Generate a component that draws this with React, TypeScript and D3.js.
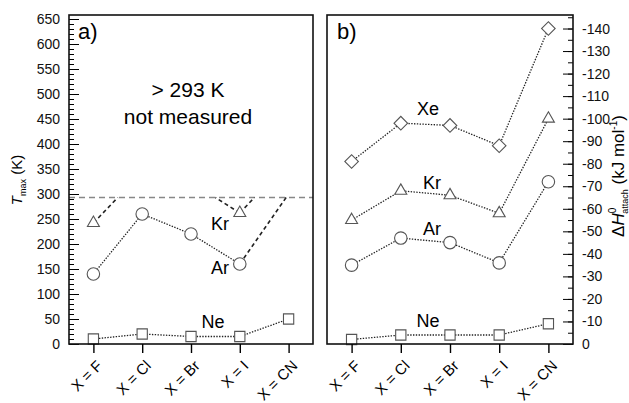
import React, { useEffect, useRef } from "react";
import * as d3 from "d3";

// categories (halide substituent)
const categories = ["X = F", "X = Cl", "X = Br", "X = I", "X = CN"];

// panel a: T_max (K); null = above 293 K, not measured
const tmaxNe = [10, 20, 15, 15, 50];
const tmaxAr = [140, 260, 220, 160, null];
const tmaxKr = [242, null, null, 262, null];
const tmaxLimit = 293;
// dashed runs from a measured point toward an unmeasured one [fromIndex, toIndex]
const arOpenEnds = [[3, 3.95]];
const krOpenEnds = [[0, 0.5], [3, 2.5], [3, 3.3]];
const tmaxTicks = d3.range(0, 651, 50);
const tmaxMinor = d3.range(0, 651, 10);

// panel b: attachment enthalpy (kJ/mol)
const dhNe = [-2, -4, -4, -4, -9];
const dhAr = [-35, -47, -45, -36, -72];
const dhKr = [-55, -68, -66, -58, -100];
const dhXe = [-81, -98, -97, -88, -140];
const dhTicks = d3.range(0, -141, -10);
const dhMinor = d3.range(0, -146, -5);

const FONT = "'Liberation Sans', Arial, sans-serif";

const App = () => {
  const svgRef = useRef(null);

  useEffect(() => {
    const svg = d3.select(svgRef.current);
    svg.selectAll("*").remove();
    svg.style("font-family", FONT);

    const top = 15, bottom = 344;

    const xA = d3.scalePoint().domain(categories).range([69, 313]).padding(0.5);
    const yA = d3.scaleLinear().domain([0, 658]).range([bottom, top]);
    const xB = d3.scalePoint().domain(categories).range([327, 573]).padding(0.5);
    const yB = d3.scaleLinear().domain([0, -146]).range([bottom, top]);

    const idxX = (x, i) => x(categories[0]) + i * x.step();

    const symbols = {
      circle: d3.symbol().type(d3.symbolCircle).size(122),
      square: d3.symbol().type(d3.symbolSquare).size(105),
      triangle: d3.symbol().type(d3.symbolTriangle).size(62),
      diamond: d3.symbol().type(d3.symbolSquare).size(92),
    };

    const drawSeries = (g, x, y, values, shape) => {
      const line = d3
        .line()
        .defined((d) => d != null)
        .x((d, i) => x(categories[i]))
        .y((d) => y(d));
      g.append("path")
        .attr("d", line(values))
        .attr("fill", "none")
        .attr("stroke", "#222")
        .attr("stroke-width", 1.3)
        .attr("stroke-dasharray", "1.4,1.4");
      return () =>
        g.selectAll(null)
          .data(values.map((v, i) => ({ v, i })).filter((d) => d.v != null))
          .enter()
          .append("path")
          .attr("d", symbols[shape]())
          .attr("transform", (d) =>
            `translate(${x(categories[d.i])},${y(d.v)})${shape === "diamond" ? " rotate(45)" : ""}`
          )
          .attr("fill", "white")
          .attr("stroke", "#555")
          .attr("stroke-width", 1.1);
    };

    const drawOpen = (g, x, y, values, runs) => {
      runs.forEach(([from, to]) => {
        g.append("line")
          .attr("x1", idxX(x, from))
          .attr("y1", y(values[from]))
          .attr("x2", idxX(x, to))
          .attr("y2", y(tmaxLimit))
          .attr("stroke", "#222")
          .attr("stroke-width", 1.6)
          .attr("stroke-dasharray", "4,3");
      });
    };

    const xLabels = (x) => {
      svg.append("g")
        .attr("transform", `translate(0,${bottom})`)
        .call(d3.axisBottom(x).tickSize(9).tickFormat(""))
        .call((a) => a.select(".domain").remove())
        .call((a) => a.selectAll("line").attr("stroke-width", 1.4));
      svg.selectAll(null)
        .data(categories)
        .enter()
        .append("text")
        .attr("transform", (d) => `translate(${x(d) + 6},${bottom + 19}) rotate(-45)`)
        .attr("text-anchor", "end")
        .attr("dy", "0.35em")
        .attr("font-size", 15)
        .text((d) => d);
    };

    const label = (t, x, y, size, anchor = "middle") =>
      svg.append("text")
        .attr("x", x)
        .attr("y", y)
        .attr("text-anchor", anchor)
        .attr("font-size", size)
        .text(t);

    // ---------- panel a ----------
    const gA = svg.append("g");
    gA.append("line")
      .attr("x1", 69).attr("x2", 313)
      .attr("y1", yA(tmaxLimit)).attr("y2", yA(tmaxLimit))
      .attr("stroke", "#888")
      .attr("stroke-width", 1.3)
      .attr("stroke-dasharray", "6,4");
    drawOpen(gA, xA, yA, tmaxKr, krOpenEnds);
    drawOpen(gA, xA, yA, tmaxAr, arOpenEnds);
    const mNe = drawSeries(gA, xA, yA, tmaxNe, "square");
    const mAr = drawSeries(gA, xA, yA, tmaxAr, "circle");
    const mKr = drawSeries(gA, xA, yA, tmaxKr, "triangle");
    mNe(); mAr(); mKr();

    svg.append("g")
      .attr("transform", "translate(69,0)")
      .call(d3.axisLeft(yA).tickValues(tmaxMinor).tickSize(-5).tickFormat(""))
      .call((a) => a.select(".domain").remove());
    svg.append("g")
      .attr("transform", "translate(69,0)")
      .call(d3.axisLeft(yA).tickValues(tmaxTicks).tickSize(-10).tickPadding(9))
      .call((a) => a.select(".domain").remove())
      .call((a) => a.selectAll("text").attr("font-size", 14).attr("font-family", FONT).attr("fill", "#111"));

    svg.append("rect")
      .attr("x", 69).attr("y", top)
      .attr("width", 244).attr("height", bottom - top)
      .attr("fill", "none").attr("stroke", "#111").attr("stroke-width", 1.6);
    xLabels(xA);

    label("a)", 78, 39, 22, "start");
    label("> 293 K", 188, 97, 21);
    label("not measured", 188, 124, 21);
    label("Kr", 220, 230, 18);
    label("Ar", 220, 274, 18);
    label("Ne", 213, 328, 18);

    // y title a
    const tA = svg.append("text")
      .attr("transform", "translate(22,180) rotate(-90)")
      .attr("text-anchor", "middle")
      .attr("font-size", 15);
    tA.append("tspan").attr("font-style", "italic").text("T");
    tA.append("tspan").attr("font-size", 9).attr("dy", 4).text("max");
    tA.append("tspan").attr("dy", -4).text(" (K)");

    // ---------- panel b ----------
    const gB = svg.append("g");
    const bNe = drawSeries(gB, xB, yB, dhNe, "square");
    const bAr = drawSeries(gB, xB, yB, dhAr, "circle");
    const bKr = drawSeries(gB, xB, yB, dhKr, "triangle");
    const bXe = drawSeries(gB, xB, yB, dhXe, "diamond");
    bNe(); bAr(); bKr(); bXe();

    svg.append("g")
      .attr("transform", "translate(573,0)")
      .call(d3.axisRight(yB).tickValues(dhMinor).tickSize(-5).tickFormat(""))
      .call((a) => a.select(".domain").remove());
    svg.append("g")
      .attr("transform", "translate(573,0)")
      .call(d3.axisRight(yB).tickValues(dhTicks).tickSize(-10).tickPadding(9).tickFormat((d) => String(d)))
      .call((a) => a.select(".domain").remove())
      .call((a) => a.selectAll("text").attr("font-size", 14).attr("font-family", FONT).attr("fill", "#111"));

    svg.append("rect")
      .attr("x", 327).attr("y", top)
      .attr("width", 246).attr("height", bottom - top)
      .attr("fill", "none").attr("stroke", "#111").attr("stroke-width", 1.6);
    xLabels(xB);

    label("b)", 337, 39, 22, "start");
    label("Xe", 428, 115, 18);
    label("Kr", 432, 189, 18);
    label("Ar", 432, 235, 18);
    label("Ne", 428, 327, 18);

    // y title b
    const tB = svg.append("text")
      .attr("transform", "translate(624,176) rotate(-90)")
      .attr("text-anchor", "middle")
      .attr("font-size", 17);
    tB.append("tspan").text("Δ");
    tB.append("tspan").attr("font-style", "italic").text("H");
    tB.append("tspan").attr("font-size", 10).attr("dy", -8).text("0");
    tB.append("tspan").attr("font-size", 9).attr("dx", -6).attr("dy", 12).text("attach");
    tB.append("tspan").attr("dy", -4).text(" (kJ mol");
    tB.append("tspan").attr("font-size", 10).attr("dy", -7).text("-1");
    tB.append("tspan").attr("dy", 7).text(")");
  }, []);

  return (
    <svg
      ref={svgRef}
      width={629}
      height={403}
      style={{ position: "absolute", left: 0, top: 0, background: "white" }}
    ></svg>
  );
};

export default App;
